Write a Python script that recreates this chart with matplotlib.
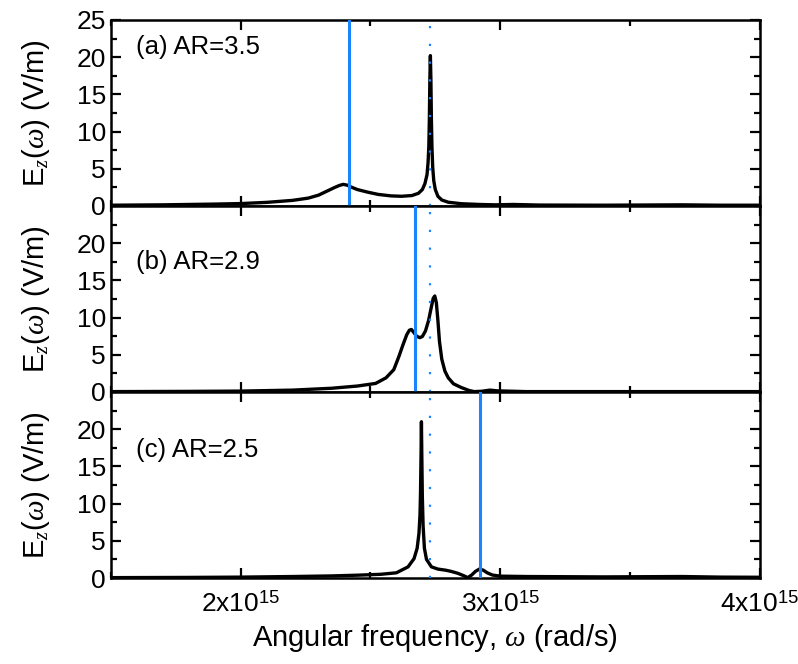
import matplotlib
matplotlib.use("Agg")
import matplotlib.pyplot as plt
from matplotlib.ticker import MultipleLocator, FixedLocator

plt.rcParams['font.family'] = ['Liberation Sans', 'DejaVu Sans']
plt.rcParams['mathtext.fontset'] = 'custom'
plt.rcParams['mathtext.rm'] = 'Liberation Sans'
plt.rcParams['mathtext.it'] = 'Liberation Serif:italic'

# angular frequency in units of 1e15 rad/s, field in V/m
w_a = [1.50, 1.70, 1.90, 2.00, 2.10, 2.20, 2.26, 2.30, 2.33, 2.36, 2.38, 2.395, 2.41, 2.425,
       2.45, 2.49, 2.53, 2.58, 2.62, 2.66, 2.685, 2.70, 2.71, 2.718, 2.722, 2.725, 2.727,
       2.729, 2.731, 2.733, 2.735, 2.737, 2.740, 2.744, 2.750, 2.760, 2.775, 2.80, 2.85,
       2.92, 2.98, 3.05, 3.15, 3.40, 3.70, 3.85, 4.00]
E_a = [0.10, 0.15, 0.25, 0.32, 0.48, 0.75, 1.05, 1.45, 1.95, 2.45, 2.75, 2.90, 2.80, 2.55,
       2.20, 1.85, 1.55, 1.35, 1.30, 1.40, 1.70, 2.20, 3.00, 4.2, 5.8, 8.0, 11.5,
       17.0, 20.2, 17.0, 11.5, 8.0, 5.2, 3.4, 2.2, 1.3, 0.8, 0.5, 0.3,
       0.2, 0.15, 0.2, 0.12, 0.1, 0.15, 0.1, 0.1]

w_b = [1.50, 1.80, 2.00, 2.20, 2.35, 2.45, 2.52, 2.56, 2.59, 2.61, 2.625, 2.64, 2.65, 2.658,
       2.667, 2.678, 2.69, 2.70, 2.712, 2.724, 2.734, 2.742, 2.748, 2.754, 2.760, 2.766,
       2.775, 2.787, 2.80, 2.82, 2.85, 2.88, 2.90, 2.93, 2.96, 2.99, 3.10, 3.50, 4.00]
E_b = [0.05, 0.08, 0.12, 0.25, 0.5, 0.8, 1.15, 1.9, 3.0, 4.8, 6.3, 7.7, 8.3, 8.4,
       8.0, 7.5, 7.3, 7.45, 8.2, 9.6, 11.3, 12.6, 12.9, 12.0, 9.6, 6.8,
       4.4, 2.8, 1.9, 1.1, 0.6, 0.2, 0.05, 0.1, 0.25, 0.15, 0.05, 0.05, 0.05]

w_c = [1.50, 1.80, 2.00, 2.20, 2.35, 2.45, 2.54, 2.60, 2.645, 2.668, 2.680, 2.687, 2.691,
       2.693, 2.695, 2.6965, 2.698, 2.700, 2.703, 2.708, 2.716, 2.735, 2.76, 2.79, 2.81,
       2.837, 2.86, 2.875, 2.89, 2.905, 2.92, 2.935, 2.95, 2.97, 3.00, 3.10, 3.40, 3.70,
       3.85, 4.00]
E_c = [0.05, 0.08, 0.12, 0.2, 0.28, 0.38, 0.5, 0.7, 1.5, 2.6, 4.0, 6.0, 8.5,
       11.5, 16.5, 21.0, 16.5, 11.0, 7.0, 4.0, 2.5, 1.5, 1.2, 1.05, 0.9,
       0.63, 0.3, 0.05, 0.4, 0.9, 1.2, 1.05, 0.7, 0.4, 0.25, 0.2, 0.15, 0.2,
       0.12, 0.1]

panel_labels = ["(a) AR=3.5", "(b) AR=2.9", "(c) AR=2.5"]
solid_lines = [2.419, 2.673, 2.921]
dotted_line = 2.731
x_ticks = [2.0, 3.0, 4.0]
x_ticklabels = [r"2x10$^{15}$", r"3x10$^{15}$", r"4x10$^{15}$"]

blue = '#1a84ff'
fs_tick = 19
fs_lab = 21
fs_panel = 18.5
label_y = [0.855, 0.70, 0.69]

fig = plt.figure(figsize=(7.98, 6.64), dpi=100)
gs = fig.add_gridspec(3, 1, left=0.139, right=0.952, top=0.970, bottom=0.1295, hspace=0)
axes = [fig.add_subplot(gs[i]) for i in range(3)]
series = [(w_a, E_a), (w_b, E_b), (w_c, E_c)]

for i, ax in enumerate(axes):
    w, E = series[i]
    ax.plot(w, E, color='black', lw=2.4, zorder=3, solid_joinstyle='round')
    ax.axvline(solid_lines[i], color=blue, lw=2.2, zorder=4)
    ax.axvline(dotted_line, color=blue, lw=1.6, linestyle=(0, (1, 7)), zorder=5)
    ax.set_xlim(1.5, 4.0)
    ax.set_ylim(0, 25)
    ax.xaxis.set_major_locator(FixedLocator(x_ticks))
    ax.xaxis.set_minor_locator(MultipleLocator(0.5))
    ax.yaxis.set_major_locator(MultipleLocator(5))
    ax.yaxis.set_minor_locator(MultipleLocator(2.5))
    ax.tick_params(which='both', direction='in', top=True, right=True, width=1.6,
                   labelsize=fs_tick)
    ax.tick_params(which='major', length=7)
    ax.tick_params(which='minor', length=4)
    for sp in ax.spines.values():
        sp.set_linewidth(1.8)
    ax.text(0.039, label_y[i], panel_labels[i], transform=ax.transAxes, fontsize=fs_panel,
            ha='left', va='center')
    ax.set_ylabel(r"E$_z$($\mathit{\omega}$) (V/m)", fontsize=fs_lab, labelpad=18)
    if i < 2:
        ax.tick_params(labelbottom=False)
    else:
        ax.set_xticklabels(x_ticklabels)
        ax.tick_params(axis='x', pad=9)
        ax.set_xlabel(r"Angular frequency, $\mathit{\omega}$ (rad/s)", fontsize=fs_lab, labelpad=4)
    if i > 0:
        ax.set_yticks([0, 5, 10, 15, 20])

fig.savefig("out.png", dpi=100)
